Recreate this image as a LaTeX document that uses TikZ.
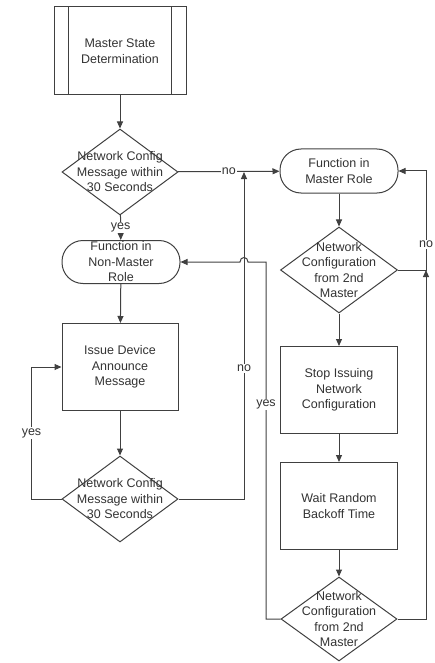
\documentclass[tikz,border=0pt]{standalone}
\usepackage{fontspec}
\setmainfont{Liberation Sans}
\usetikzlibrary{shapes,arrows.meta,positioning}

\begin{document}
\begin{tikzpicture}[x=1pt,y=-1pt]
		\tikzstyle{Base}	= [draw=black!75, line width=1pt, text=black!80, font=\fontsize{12.5}{15.5}\selectfont, align=center, inner sep=0pt]
		\tikzstyle{Process}	= [Base, rectangle, minimum width=116pt, minimum height=87pt]
		\tikzstyle{Terminal}	= [Base, rectangle, rounded corners=21pt, minimum width=118pt, minimum height=43pt]
		\tikzstyle{Decision}	= [Base, diamond, minimum width=116pt, minimum height=86pt]
		\tikzstyle{Inside}	= [text=black!80, font=\fontsize{12.5}{15.5}\selectfont, align=center, inner sep=0pt]
		\tikzstyle{Line}	= [draw=black!75, line width=1pt]
		\tikzstyle{Flow}	= [Line, -{Triangle[length=7pt,width=6pt]}]
		\tikzstyle{Tag}		= [fill=white, text=black!80, font=\fontsize{12.5}{15.5}\selectfont, inner sep=1pt]

		\useasboundingbox (0,0) rectangle (434,663);

		% left column
		\node (msd) at (120,51) [Process, minimum width=132pt, minimum height=88pt] {Master State\\Determination};
		\node (d1) at (120,172) [Decision, label={[Inside]center:{Network Config\\Message within\\30 Seconds}}] {};
		\node (nm) at (121,262) [Terminal, label={[Inside]center:{Function in\\Non-Master\\Role}}] {};
		\node (issue) at (120,367) [Process] {Issue Device\\Announce\\Message};
		\node (d2) at (120,499) [Decision, label={[Inside]center:{Network Config\\Message within\\30 Seconds}}] {};

		% right column
		\node (mr) at (339,171) [Terminal, minimum height=44pt] {Function in\\Master Role};
		\node (d3) at (339,270) [Decision, minimum width=117pt, label={[Inside]center:{Network\\Configuration\\from 2nd\\Master}}] {};
		\node (stop) at (339,390) [Process, minimum width=117pt] {Stop Issuing\\Network\\Configuration};
		\node (wait) at (339,506) [Process, minimum width=117pt] {Wait Random\\Backoff Time};
		\node (d4) at (339,619) [Decision, minimum height=84pt, label={[Inside]center:{Network\\Configuration\\from 2nd\\Master}}] {};

		\coordinate (j1) at (244,172);
		\coordinate (j2) at (426,270);
		\coordinate (hop) at (244,262);

		\draw [Line] ([xshift=15pt]msd.north west) to ([xshift=15pt]msd.south west);
		\draw [Line] ([xshift=-15pt]msd.north east) to ([xshift=-15pt]msd.south east);

		\draw [Flow] (msd) to (d1);
		\draw [Flow] (d1) to node [Tag] {yes} (nm);
		\draw [Flow] (d1) to node [Tag] {no} (mr);
		\draw [Flow] (nm) to (issue);
		\draw [Flow] (issue) to (d2);
		\draw [Flow] (d2.west) -- ++(-30,0) |- node [Tag, pos=0.25] {yes} (issue.west);
		\draw [Flow] (d2.east) -| node [Tag, pos=0.7] {no} (j1);

		\draw [Flow] (mr) to (d3);
		\draw [Flow] (d3) to (stop);
		\draw [Flow] (stop) to (wait);
		\draw [Flow] (wait) to (d4);
		\draw [Flow] (d3.east) -| node [Tag, pos=0.63] {no} (mr.east -| j2) -- (mr.east);
		\draw [Flow] (d4.east) -| (j2);
		\draw [Flow] (d4.west) -| node [Tag, pos=0.8] {yes} (hop -| 266,0) -- ([xshift=4pt]hop)
			.. controls ([xshift=4pt,yshift=6pt]hop) and ([xshift=-4pt,yshift=6pt]hop) .. ([xshift=-4pt]hop) -- (nm.east);
	\end{tikzpicture}
\end{document}
